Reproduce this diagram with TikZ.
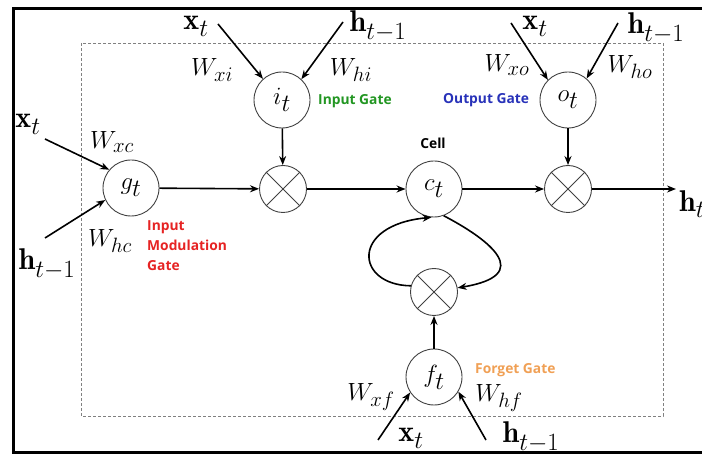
\documentclass[tikz,border=0pt]{standalone}
\usepackage{fontspec}
\newfontfamily\gatefont{Open Sans}
\usetikzlibrary{arrows.meta}
\DeclareMathSizes{30}{30}{23}{18}
\DeclareMathSizes{27}{27}{21}{16}
\DeclareMathSizes{31}{31}{24}{18}
\definecolor{gGreen}{RGB}{34,150,34}
\definecolor{gBlue}{RGB}{40,50,185}
\definecolor{gRed}{RGB}{230,35,35}
\definecolor{gOrange}{RGB}{240,160,85}
\begin{document}
\begin{tikzpicture}[x=1pt,y=-1pt,
  gatecirc/.style={circle,draw=black!75,line width=0.9pt,minimum size=56pt,inner sep=0pt,font=\fontsize{31}{35}\selectfont},
  mulcirc/.style={circle,draw=black!75,line width=0.9pt,minimum size=47pt,inner sep=0pt},
  conn/.style={line width=1.6pt,-{Stealth[length=9pt,width=7pt]}},
  bvec/.style={inner sep=0pt,font=\fontsize{30}{34}\selectfont},
  wlab/.style={inner sep=0pt,font=\fontsize{27}{31}\selectfont},
  tag/.style={inner sep=0pt,font=\gatefont\bfseries\fontsize{13.8}{20}\selectfont},
]
\useasboundingbox (0,0) rectangle (702,454);
\clip (0,0) rectangle (702,454);

% dashed cell box
\draw[gray,line width=0.8pt,dash pattern=on 3pt off 2pt] (81,43) rectangle (663,416);

% gate nodes
\node[gatecirc] (g) at (131,188) {$g_t$};
\node[gatecirc] (i) at (282,100) {$i_t$};
\node[gatecirc] (c) at (434,189) {$c_t$};
\node[gatecirc] (o) at (568,100) {$o_t$};
\node[gatecirc] (f) at (434,377) {$f_t$};
\node[mulcirc] (m1) at (283,189) {};
\node[mulcirc] (m2) at (568,189) {};
\node[mulcirc] (m3) at (434,292) {};
\foreach \m in {m1,m2,m3}{
  \draw[black!75,line width=0.9pt] (\m.north west) -- (\m.south east);
  \draw[black!75,line width=0.9pt] (\m.north east) -- (\m.south west);
}

% input labels
\node[bvec] (xi) at (196,26) {$\mathbf{x}_t$};
\node[bvec] (hi) at (378,26) {$\mathbf{h}_{t-1}$};
\node[bvec] (xo) at (535,26) {$\mathbf{x}_t$};
\node[bvec] (ho) at (656,28) {$\mathbf{h}_{t-1}$};
\node[bvec] (xg) at (28,124) {$\mathbf{x}_t$};
\node[bvec] (hg) at (47,264) {$\mathbf{h}_{t-1}$};
\node[bvec] (xf) at (411,438) {$\mathbf{x}_t$};
\node[bvec] (hf) at (531,437) {$\mathbf{h}_{t-1}$};
\node[bvec,anchor=west] (hout) at (679,204) {$\mathbf{h}_t$};

% weight labels
\node[wlab] (wxi) at (212,70) {$W_{xi}$};
\node[wlab] (whi) at (351,70) {$W_{hi}$};
\node[wlab] (wxo) at (507,65) {$W_{xo}$};
\node[wlab] (who) at (630,67) {$W_{ho}$};
\node[wlab] (wxc) at (112,142) {$W_{xc}$};
\node[wlab] (whc) at (110,241) {$W_{hc}$};
\node[wlab] (wxf) at (371,397) {$W_{xf}$};
\node[wlab] (whf) at (499,398) {$W_{hf}$};

% gate names
\node[tag,text=gGreen,anchor=west] (tin) at (318,101) {Input Gate};
\node[tag,text=gBlue,anchor=west] (tout) at (443,100) {Output Gate};
\node[tag] (tcell) at (433,143) {Cell};
\node[tag,text=gRed,anchor=west,align=left] (tmod) at (147,246) {Input\\Modulation\\Gate};
\node[tag,text=gOrange,anchor=west] (tfor) at (475,370) {Forget Gate};

% input arrow start points
\coordinate (sxi) at (218,24);
\coordinate (shi) at (343,22);
\coordinate (sxo) at (511,23);
\coordinate (sho) at (618,23);
\coordinate (sxg) at (45,139);
\coordinate (shg) at (45,238);
\coordinate (sxf) at (378,440);
\coordinate (shf) at (486,440);
\coordinate (eout) at (676,189);

\draw[conn] (sxi) -- (i.132);
\draw[conn] (shi) -- (i.47);
\draw[conn] (sxo) -- (o.135);
\draw[conn] (sho) -- (o.49);
\draw[conn] (sxg) -- (g.140);
\draw[conn] (shg) -- (g.205);
\draw[conn] (sxf) -- (f.213);
\draw[conn] (shf) -- (f.329);

% main flow
\draw[conn] (g) -- (m1);
\draw[conn] (m1) -- (c);
\draw[conn] (c) -- (m2);
\draw[conn] (m2) -- (eout);
\draw[conn] (i) -- (m1);
\draw[conn] (o) -- (m2);
\draw[conn] (f) -- (m3);

% recurrent loop
\draw[conn] (m3.165) .. controls (355,285) and (350,225) .. (c.265);
\draw[conn] (c.290) .. controls (490,240) and (535,275) .. (m3.10);

% outer frame
\draw[line width=3pt] (13,470) -- (13,8.5) -- (720,8.5);
\draw[line width=3pt] (13,452.8) -- (720,452.8);
\end{tikzpicture}
\end{document}
